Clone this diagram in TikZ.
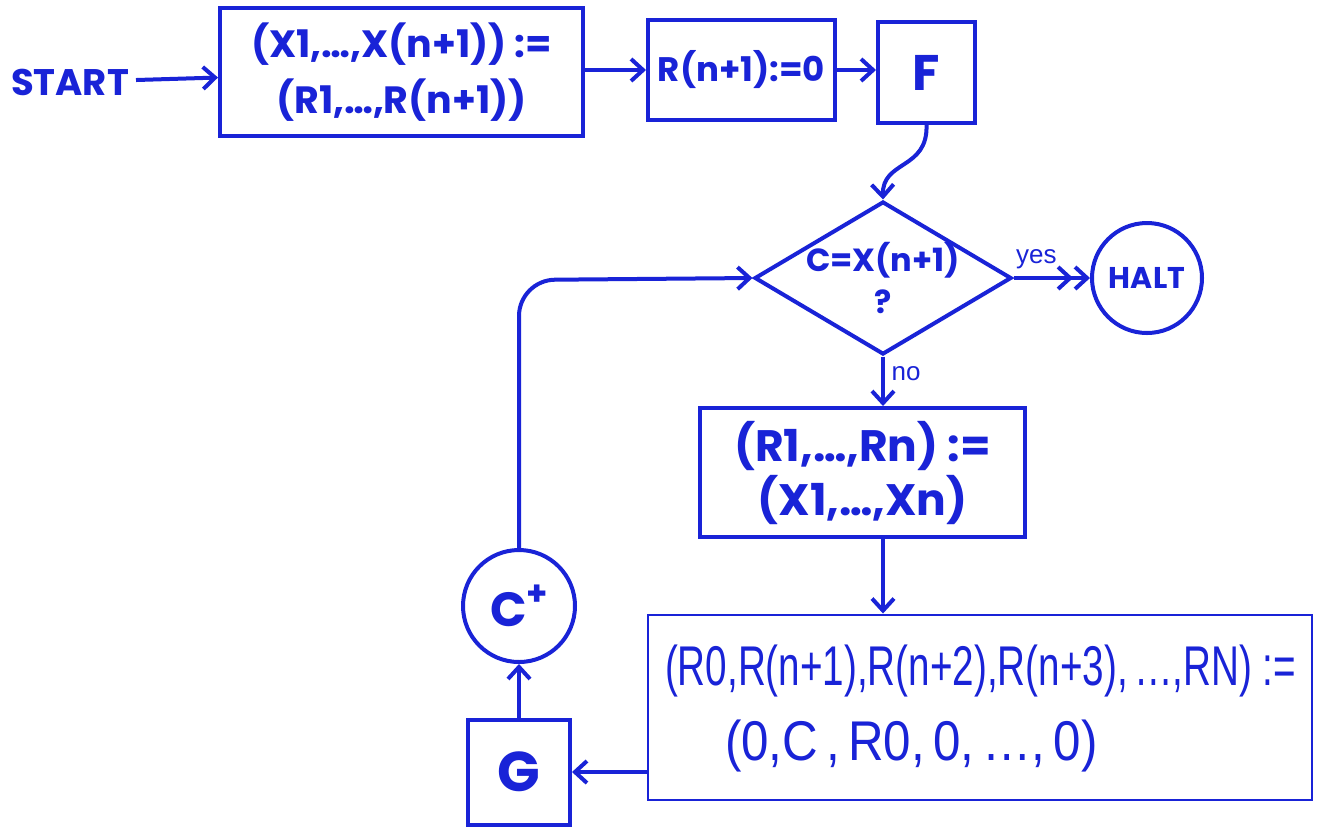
\documentclass[tikz,border=0pt]{standalone}
\usepackage{fontspec}
\setmainfont{Poppins}
\newfontfamily\handfont{Liberation Sans}
\usetikzlibrary{shapes.geometric,arrows.meta}
\definecolor{hb}{RGB}{25,35,215}
\begin{document}
\begin{tikzpicture}[x=0.5pt,y=-0.5pt,
  every node/.style={text=hb},
  bf/.style={font=\bfseries\fontsize{#1}{#1}\selectfont},
  box/.style={draw=hb, line width=2pt, inner sep=0pt, align=center},
  circ/.style={draw=hb, line width=2pt, circle, inner sep=0pt},
  conn/.style={draw=hb, line width=2pt, -{Straight Barb[length=6pt,width=11pt,line width=2pt]}},
  dconn/.style={draw=hb, line width=2pt, -{Straight Barb[length=6pt,width=11pt,line width=2pt]Straight Barb[length=6pt,width=11pt,line width=2pt]}},
  lbl/.style={font=\handfont\fontsize{13}{13}\selectfont},
  ]
\fill[white] (0,0) rectangle (1339,832);
\useasboundingbox (0,0) rectangle (1339,832);
\node[bf=18.5] (start) at (70,82) {START};
\node[box, minimum width=181.5pt, minimum height=64pt, font=\bfseries\fontsize{19}{28}\selectfont] (init) at (401.5,72) {(X1,\ldots,X(n+1)) :=\\(R1,\ldots,R(n+1))};
\node[box, minimum width=93.5pt, minimum height=50pt, bf=17] (zero) at (741.5,70) {R(n+1):=0};
\node[box, minimum width=48.5pt, minimum height=50.5pt, bf=25] (F) at (926.5,72.5) {F};
\node[draw=hb, line width=2pt, diamond, inner sep=-12pt, minimum width=128.5pt, minimum height=76.5pt, aspect=1.68, align=center, font=\bfseries\fontsize{16}{21}\selectfont] (test) at (883,278) {C=X(n+1)\\?};
\node[circ, minimum size=55pt, bf=15] (halt) at (1147,278) {HALT};
\node[box, minimum width=162.5pt, minimum height=64.5pt, font=\bfseries\fontsize{22}{27}\selectfont] (copy) at (862.5,472.5) {(R1,\ldots,Rn) :=\\(X1,\ldots,Xn)};
\node[draw=hb, line width=1pt, minimum width=332pt, minimum height=92.5pt, inner sep=0pt] (clear) at (980,707) {};
\node[font=\handfont\fontsize{28}{28}\selectfont, anchor=base west] (l1) at (658,685) {\scalebox{0.69}[1]{(R0,R(n+1),R(n+2),R(n+3),\,\ldots,RN) :=}};
\node[font=\handfont\fontsize{28}{28}\selectfont, anchor=base west] (l2) at (718,760) {\scalebox{0.88}[1]{(0,C\,,\,R0,\,0,\,\ldots,\,0)}};
\node[box, minimum width=51pt, minimum height=52.5pt, bf=28] (G) at (519,772) {G};
\node[circ, minimum size=56pt, bf=24] (cplus) at (519,606) {C\raisebox{0.45em}{\fontsize{17}{17}\selectfont+}};
\coordinate (turn) at (519,280);
\draw[conn] (start) -- (init);
\draw[conn] (init.east |- zero) -- (zero);
\draw[conn] (zero) -- (F.west |- zero);
\draw[conn] (F.south) .. controls (928,170) and (882,160) .. (test.north);
\draw[dconn] (test.east) -- node[lbl, above, pos=0.3] (yes) {yes} (halt.west);
\draw[conn] (test.south) -- node[lbl, right, pos=0.35] (no) {no} (copy.north -| test.south);
\draw[conn] (copy.south -| test.south) -- (clear.north -| test.south);
\draw[conn] (clear.west |- G) -- (G.east);
\draw[conn] (G.north) -- (cplus.south);
\draw[conn, rounded corners=18pt] (cplus.north) -- (turn) -- (test.west);
\end{tikzpicture}
\end{document}
